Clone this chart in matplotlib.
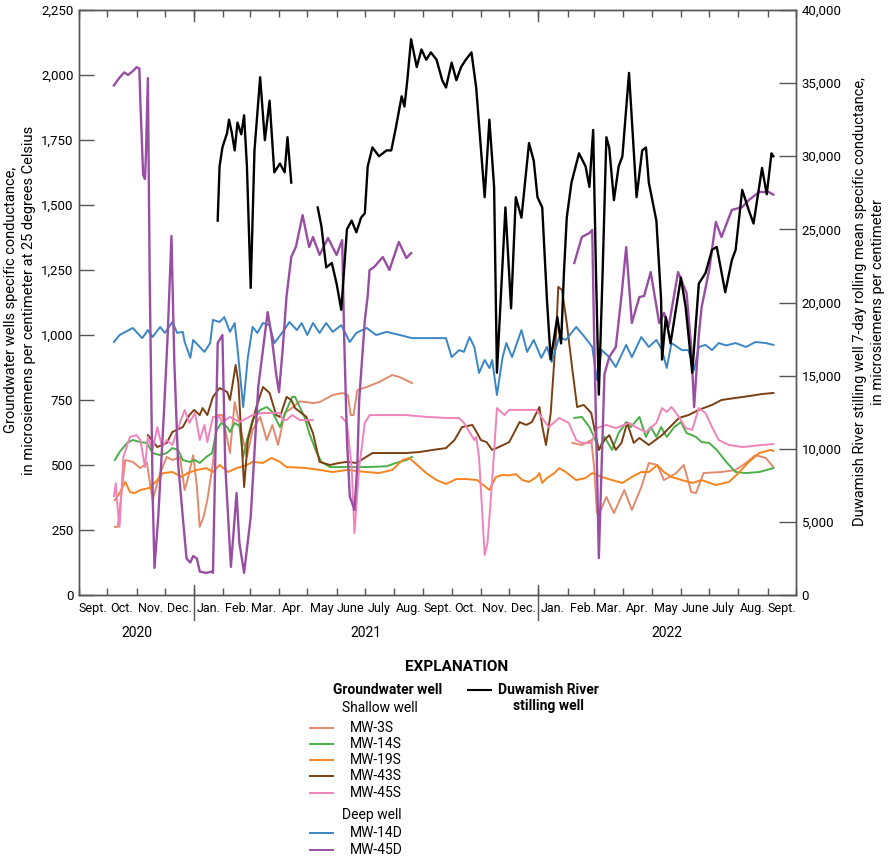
import numpy as np
import matplotlib
matplotlib.use("Agg")
import matplotlib.pyplot as plt
import matplotlib.dates as mdates
from matplotlib.lines import Line2D
from matplotlib.ticker import FuncFormatter, MultipleLocator
import matplotlib.transforms as mtransforms

plt.rcParams['font.family'] = ['Roboto', 'DejaVu Sans']

nan = np.nan
start = np.datetime64('2020-09-01')

# days since 1 Sept 2020, values in microsiemens per centimeter
mw3s_days = [38, 41, 49, 57, 65, 72, 78, 86, 93, 99, 107, 112, 115, 121, 125, 128, 132, 136, 142, 147,
             152, 160, 165, 170, 178, 184, 192, 199, 205, 211, 218, 226, 234, 241, 248, 255, 269, 279,
             285, 288, 291, 295, 305, 318, 332, 340, 353, 400,
             523, 533, 543, 546, 549, 553, 559, 567, 578, 586, 596, 604, 613, 620, 633, 641, 649, 654,
             662, 681, 696, 707, 717, 728, 736]
mw3s_vals = [262, 262, 519, 512, 488, 508, 365, 469, 531, 519, 531, 404, 442, 538, 415, 262, 300, 365, 508, 692,
             692, 546, 742, 662, 531, 635, 685, 596, 654, 577, 700, 720, 745, 742, 738, 742, 769, 777,
             769, 692, 692, 788, 800, 819, 846, 838, 815, nan,
             585, 577, 596, 492, 315, 327, 377, 315, 404, 327, 415, 508, 500, 442, 469, 500, 396, 392,
             469, 473, 481, 508, 538, 527, 492]

mw14s_days = [38, 43, 51, 57, 65, 72, 78, 86, 93, 99, 105, 110, 117, 123, 128, 135, 141, 146, 151, 157,
              160, 165, 170, 174, 178, 184, 192, 199, 205, 213, 220, 226, 229, 234, 239, 244, 252, 257,
              266, 284, 305, 326, 336, 347, 353, 400,
              525, 533, 541, 546, 551, 557, 565, 572, 580, 585, 594, 601, 606, 612, 617, 623, 631, 638,
              644, 654, 660, 668, 676, 686, 696, 707, 721, 736]
mw14s_vals = [519, 550, 585, 596, 588, 585, 546, 538, 546, 565, 558, 519, 512, 519, 508, 531, 546, 635, 662, 646,
              627, 662, 650, 531, 596, 673, 712, 723, 704, 646, 712, 762, 762, 723, 685, 623, 546, 512,
              492, 492, 492, 495, 508, 519, 531, nan,
              681, 685, 646, 608, 558, 608, 558, 623, 665, 646, 685, 608, 646, 608, 646, 608, 646, 665,
              623, 608, 588, 585, 558, 512, 473, 469, 473, 488]

mw19s_days = [38, 43, 49, 54, 59, 65, 75, 83, 89, 99, 109, 115, 125, 135, 142, 149, 158, 167, 178, 184,
              195, 204, 213, 220, 234, 241, 255, 269, 284, 305, 318, 332, 343, 350, 361, 368, 379, 389,
              400, 410, 422, 435, 442, 449, 456, 463, 470, 477, 485, 488, 491, 496, 504, 509, 516, 527,
              537, 544, 554, 565, 576, 586, 596, 604, 613, 620, 628, 639, 650, 660, 675, 689, 699, 710,
              721, 733, 736]
mw19s_vals = [365, 392, 435, 396, 392, 404, 412, 442, 469, 473, 454, 469, 481, 488, 473, 500, 473, 488, 500, 512,
              508, 527, 512, 492, 490, 488, 481, 473, 481, 473, 469, 481, 519, 527, 492, 469, 442, 427,
              446, 446, 442, 404, 454, 462, 460, 465, 442, 435, 454, 469, 431, 450, 469, 488, 473, 442,
              450, 469, 454, 442, 431, 454, 473, 473, 500, 473, 454, 442, 431, 442, 423, 435, 469, 512,
              546, 558, 554]

mw43s_days = [73, 83, 93, 99, 110, 117, 122, 128, 131, 136, 142, 149, 157, 160, 163, 166, 169, 175, 179, 188,
              195, 202, 209, 213, 220, 225, 229, 241, 248, 255, 266, 276, 284, 294, 299, 311, 326, 347,
              361, 375, 389, 398, 406, 417, 422, 426, 432, 438, 445, 456, 467, 474, 480, 488, 491, 495,
              500, 506, 508, 512, 517, 523, 528, 535, 543, 548, 551, 557, 562, 569, 575, 581, 588, 594,
              604, 618, 636, 646, 657, 671, 681, 696, 710, 724, 736]
mw43s_vals = [615, 569, 585, 627, 646, 692, 712, 692, 719, 692, 762, 796, 781, 750, 815, 885, 815, 415, 596, 723,
              800, 777, 692, 685, 762, 750, 719, 685, 623, 512, 500, 508, 512, 508, 519, 546, 546, 546,
              550, 558, 565, 596, 646, 654, 623, 596, 588, 558, 569, 588, 665, 654, 665, 723, 650, 577,
              700, 1019, 1185, 1173, 1046, 865, 723, 731, 700, 608, 558, 596, 615, 558, 585, 662, 585, 604,
              577, 615, 681, 692, 712, 731, 750, 758, 765, 773, 777]

mw45s_days = [37, 39, 41, 43, 47, 54, 61, 65, 70, 73, 78, 83, 88, 93, 99, 107, 112, 117, 123, 128,
              133, 136, 142, 149, 152, 160, 170, 184, 195, 205, 213, 216, 220, 226, 234, 248, 262,
              278, 284, 289, 292, 297, 303, 308, 326, 347, 368, 389, 403, 408, 419, 421, 424, 430, 433,
              438, 443, 451, 456, 485, 490, 498, 509, 519, 527, 533, 543, 549, 559, 569, 583, 592, 601,
              612, 618, 623, 628, 636, 643, 650, 657, 664, 671, 678, 689, 703, 724, 736]
mw45s_vals = [380, 430, 330, 262, 531, 608, 615, 596, 492, 608, 558, 646, 569, 596, 577, 662, 712, 662, 700, 596,
              654, 588, 685, 685, 665, 685, 665, 692, 700, 700, 700, 673, 673, 692, 673, 673, nan,
              685, 662, 492, 238, 492, 662, 692, 692, 692, 685, 681, 681, 662, 596, 608, 531, 154, 200,
              442, 719, 692, 712, 712, 685, 646, 681, 662, 596, 585, 585, 642, 654, 642, 662, 642, 627,
              662, 719, 704, 723, 685, 642, 635, 719, 700, 646, 596, 577, 569, 577, 581]

mw14d_days = [37, 43, 57, 67, 73, 78, 86, 91, 99, 104, 110, 112, 118, 121, 128, 133, 139, 142, 149, 154,
              160, 165, 168, 174, 179, 184, 189, 195, 202, 207, 216, 223, 231, 236, 242, 248, 255, 262,
              269, 278, 287, 294, 305, 315, 326, 340, 353, 375, 389, 395, 403, 408, 414, 419, 424, 430,
              435, 438, 443, 449, 453, 459, 469, 475, 482, 490, 496, 501, 509, 516, 527, 537, 544, 549,
              554, 562, 569, 580, 586, 596, 604, 612, 618, 623, 628, 639, 646, 652, 657, 664, 671, 678,
              686, 696, 707, 717, 728, 736]
mw14d_vals = [973, 1000, 1027, 988, 1019, 992, 1031, 1008, 1050, 1008, 1012, 973, 912, 981, 954, 935, 969, 1058, 1050, 1069,
              1012, 1046, 950, 723, 915, 1031, 1008, 1046, 1038, 969, 1012, 1050, 1019, 1046, 1000, 1046, 1008, 1046,
              1012, 1038, 973, 1008, 1027, 1000, 1012, 1000, 988, 988, 988, 915, 942, 935, 992, 954, 854, 904,
              873, 904, 769, 915, 969, 915, 1019, 935, 981, 912, 954, 896, 992, 981, 1031, 988, 954, 827,
              942, 915, 877, 962, 915, 992, 954, 981, 942, 873, 969, 942, 942, 865, 954, 962, 942, 969,
              960, 969, 954, 973, 969, 962]

mw45d_days = [37, 43, 48, 52, 57, 61, 64, 65, 68, 70, 71, 73, 75, 78, 80, 84, 90, 94, 98, 101,
              105, 110, 114, 118, 121, 125, 128, 135, 141, 142, 147, 152, 155, 161, 164, 167, 170, 175,
              182, 190, 200, 204, 209, 212, 216, 220, 225, 230, 237, 244, 248, 255, 264, 273, 279, 281,
              284, 287, 292, 295, 297, 303, 306, 308, 313, 322, 329, 339, 347, 352, 400,
              525, 533, 541, 544, 546, 549, 551, 554, 557, 562, 569, 575, 580, 586, 594, 599, 606, 615,
              620, 625, 635, 644, 649, 652, 657, 660, 668, 675, 681, 692, 703, 710, 721, 731, 736]
mw45d_vals = [1960, 1990, 2010, 2000, 2015, 2030, 2025, 1900, 1615, 1600, 1700, 1988, 1200, 400, 104, 300, 700, 1000, 1381, 900,
              508, 300, 140, 125, 150, 140, 90, 85, 90, 85, 969, 1000, 500, 108, 250, 392, 200, 85,
              300, 800, 1088, 1000, 850, 780, 950, 1150, 1300, 1340, 1461, 1338, 1377, 1308, 1373, 1308, 1365, 1000,
              600, 380, 327, 500, 750, 1058, 1150, 1250, 1262, 1300, 1250, 1358, 1296, 1315, nan,
              1277, 1377, 1392, 1404, 1000, 500, 142, 500, 850, 915, 954, 1150, 1338, 1046, 1146, 1150, 1242, 1046,
              1085, 1031, 1242, 1161, 950, 723, 1000, 1108, 1250, 1435, 1377, 1481, 1492, 1519, 1550, 1550, 1540]

river_days = [147, 149, 152, 157, 159, 162, 165, 168, 172, 175, 178, 182, 186, 192, 197, 202, 207, 213, 218, 221,
              225, 240,
              253, 257, 262, 268, 273, 278, 284, 289, 294, 299, 303, 306, 311, 318, 326, 331, 336, 342,
              345, 348, 352, 358, 363, 368, 373, 379, 385, 389, 395, 400, 405, 410, 416, 421, 430, 435,
              440, 443, 452, 458, 463, 469, 477, 482, 486, 491, 496, 500, 507, 511, 514, 517, 522, 530,
              537, 541, 545, 548, 551, 555, 559, 562, 567, 572, 576, 583, 591, 597, 601, 604, 612, 617,
              618, 622, 627, 638, 643, 650, 657, 664, 671, 676, 685, 692, 696, 703, 710, 715, 724, 729,
              734, 736]
river_vals = [25600, 29300, 30600, 31600, 32500, 31600, 30400, 32300, 31500, 32800, 29300, 21000, 30400, 35400, 31100, 33800, 28900, 29500, 28900, 31300,
              28200, nan,
              26500, 25200, 22400, 22700, 21300, 19500, 25000, 25600, 24800, 25800, 26100, 29300, 30600, 30000, 30400, 30400, 32000, 34100,
              33400, 35200, 38000, 36100, 37300, 36600, 37100, 36600, 35200, 34700, 36400, 35200, 36100, 36600, 37100, 34700, 27200, 32500,
              27900, 15200, 26500, 19600, 27200, 25800, 30900, 29700, 27200, 26500, 20200, 16100, 19000, 17200, 22000, 25800, 28200, 30200,
              29300, 27900, 31800, 22000, 13700, 22000, 31300, 30600, 27000, 29300, 30000, 35700, 27200, 30400, 30600, 28200, 25600, 20200,
              16100, 19000, 17200, 21700, 19700, 15200, 21300, 22000, 23600, 23800, 20700, 22900, 23600, 27700, 26300, 25400, 29200, 27400,
              30200, 30000]

well_names = ['MW-3S', 'MW-14S', 'MW-19S', 'MW-43S', 'MW-45S', 'MW-14D', 'MW-45D']
well_colors = ['#e38a6d', '#4aae49', '#f7831f', '#7b3f12', '#f083bb', '#3a86c4', '#984fa3']
well_days = [mw3s_days, mw14s_days, mw19s_days, mw43s_days, mw45s_days, mw14d_days, mw45d_days]
well_vals = [mw3s_vals, mw14s_vals, mw19s_vals, mw43s_vals, mw45s_vals, mw14d_vals, mw45d_vals]

month_names = ['Jan.', 'Feb.', 'Mar.', 'Apr.', 'May', 'June', 'July', 'Aug.', 'Sept.', 'Oct.', 'Nov.', 'Dec.']
year_labels = ['2020', '2021', '2022']
year_spans = [('2020-09-01', '2021-01-01'), ('2021-01-01', '2022-01-01'), ('2022-01-01', '2022-10-01')]


def to_dates(days):
    return start + np.array(days).astype('timedelta64[D]')


W, H = 895, 858
fig = plt.figure(figsize=(W / 100, H / 100), dpi=100)
ax = fig.add_axes([79 / W, 1 - 595 / H, (796 - 79) / W, (595 - 10) / H])
ax2 = ax.twinx()

frame = '#555555'
for a in (ax, ax2):
    for s in a.spines.values():
        s.set_color(frame)
        s.set_linewidth(1.0)

for i in range(len(well_names)):
    lw = 1.7 if well_names[i] == 'MW-45D' else 1.4
    ax.plot(to_dates(well_days[i]), np.array(well_vals[i], dtype=float), color=well_colors[i], lw=lw)

# the river line sits on top of the wells
ax2.plot(to_dates(river_days), np.array(river_vals, dtype=float), color='black', lw=1.7)

ax.set_xlim(np.datetime64('2020-09-01'), np.datetime64('2022-10-01'))
ax.set_ylim(0, 2250)
ax2.set_ylim(0, 40000)
ax.yaxis.set_major_locator(MultipleLocator(250))
ax2.yaxis.set_major_locator(MultipleLocator(5000))
ax.yaxis.set_major_formatter(FuncFormatter(lambda v, p: f'{int(v):,}'))
ax2.yaxis.set_major_formatter(FuncFormatter(lambda v, p: f'{int(v):,}'))

ax.xaxis.set_major_locator(mdates.MonthLocator())
ax.xaxis.set_major_formatter(plt.NullFormatter())
ax.xaxis.set_minor_locator(mdates.MonthLocator(bymonthday=16))
ax.xaxis.set_minor_formatter(FuncFormatter(lambda v, p: month_names[mdates.num2date(v).month - 1]))

ax.tick_params(axis='x', which='major', direction='in', top=True, length=5, color=frame, width=1)
ax.tick_params(axis='x', which='minor', length=0, labelsize=9, pad=5)
ax.tick_params(axis='y', direction='in', length=11, color=frame, width=1, labelsize=9.5, pad=4)
ax2.tick_params(axis='y', direction='in', length=12, color=frame, width=1, labelsize=9.5, pad=4)

# year dividers and year labels
trans = mtransforms.blended_transform_factory(ax.transData, ax.transAxes)
for y0, y1 in year_spans[1:]:
    d = np.datetime64(y0)
    ax.plot([d, d], [-25 / 585, 10 / 585], transform=trans, color=frame, lw=1, clip_on=False)
    ax.plot([d, d], [1, 1 - 11 / 585], transform=trans, color=frame, lw=1, clip_on=False)
for lab, (y0, y1) in zip(year_labels, year_spans):
    mid = np.datetime64(y0) + (np.datetime64(y1) - np.datetime64(y0)) / 2
    ax.text(mid, -38 / 585, lab, transform=trans, ha='center', va='center', fontsize=10)

fig.text(20 / W, 1 - 300 / H, 'Groundwater wells specific conductance,\nin microsiemens per centimeter at 25 degrees Celsius',
         rotation=90, ha='center', va='center', fontsize=10.5, linespacing=1.3)
fig.text(869 / W, 1 - 302 / H, 'Duwamish River stilling well 7-day rolling mean specific conductance,\nin microsiemens per centimeter',
         rotation=90, ha='center', va='center', fontsize=10.5, linespacing=1.3)


# explanation, placed in pixel positions of the figure
def fx(px):
    return px / W


def fy(py):
    return 1 - py / H


fig.text(fx(457), fy(667), 'EXPLANATION', ha='center', va='center', fontsize=11, fontweight='bold')
fig.text(fx(333), fy(690), 'Groundwater well', ha='left', va='center', fontsize=10, fontweight='bold')
fig.text(fx(342), fy(708), 'Shallow well', ha='left', va='center', fontsize=10)
fig.text(fx(342), fy(815), 'Deep well', ha='left', va='center', fontsize=10)
legend_rows = [728, 744, 760, 776, 793, 833, 850]
for name, col, row in zip(well_names, well_colors, legend_rows):
    fig.add_artist(Line2D([fx(310), fx(333)], [fy(row), fy(row)], color=col, lw=1.4))
    fig.text(fx(350), fy(row), name, ha='left', va='center', fontsize=10)
fig.add_artist(Line2D([fx(468), fx(491)], [fy(690), fy(690)], color='black', lw=1.5))
fig.text(fx(548), fy(698), 'Duwamish River\nstilling well', ha='center', va='center', fontsize=10,
         fontweight='bold', linespacing=1.25)

fig.savefig('out.png', dpi=100)
